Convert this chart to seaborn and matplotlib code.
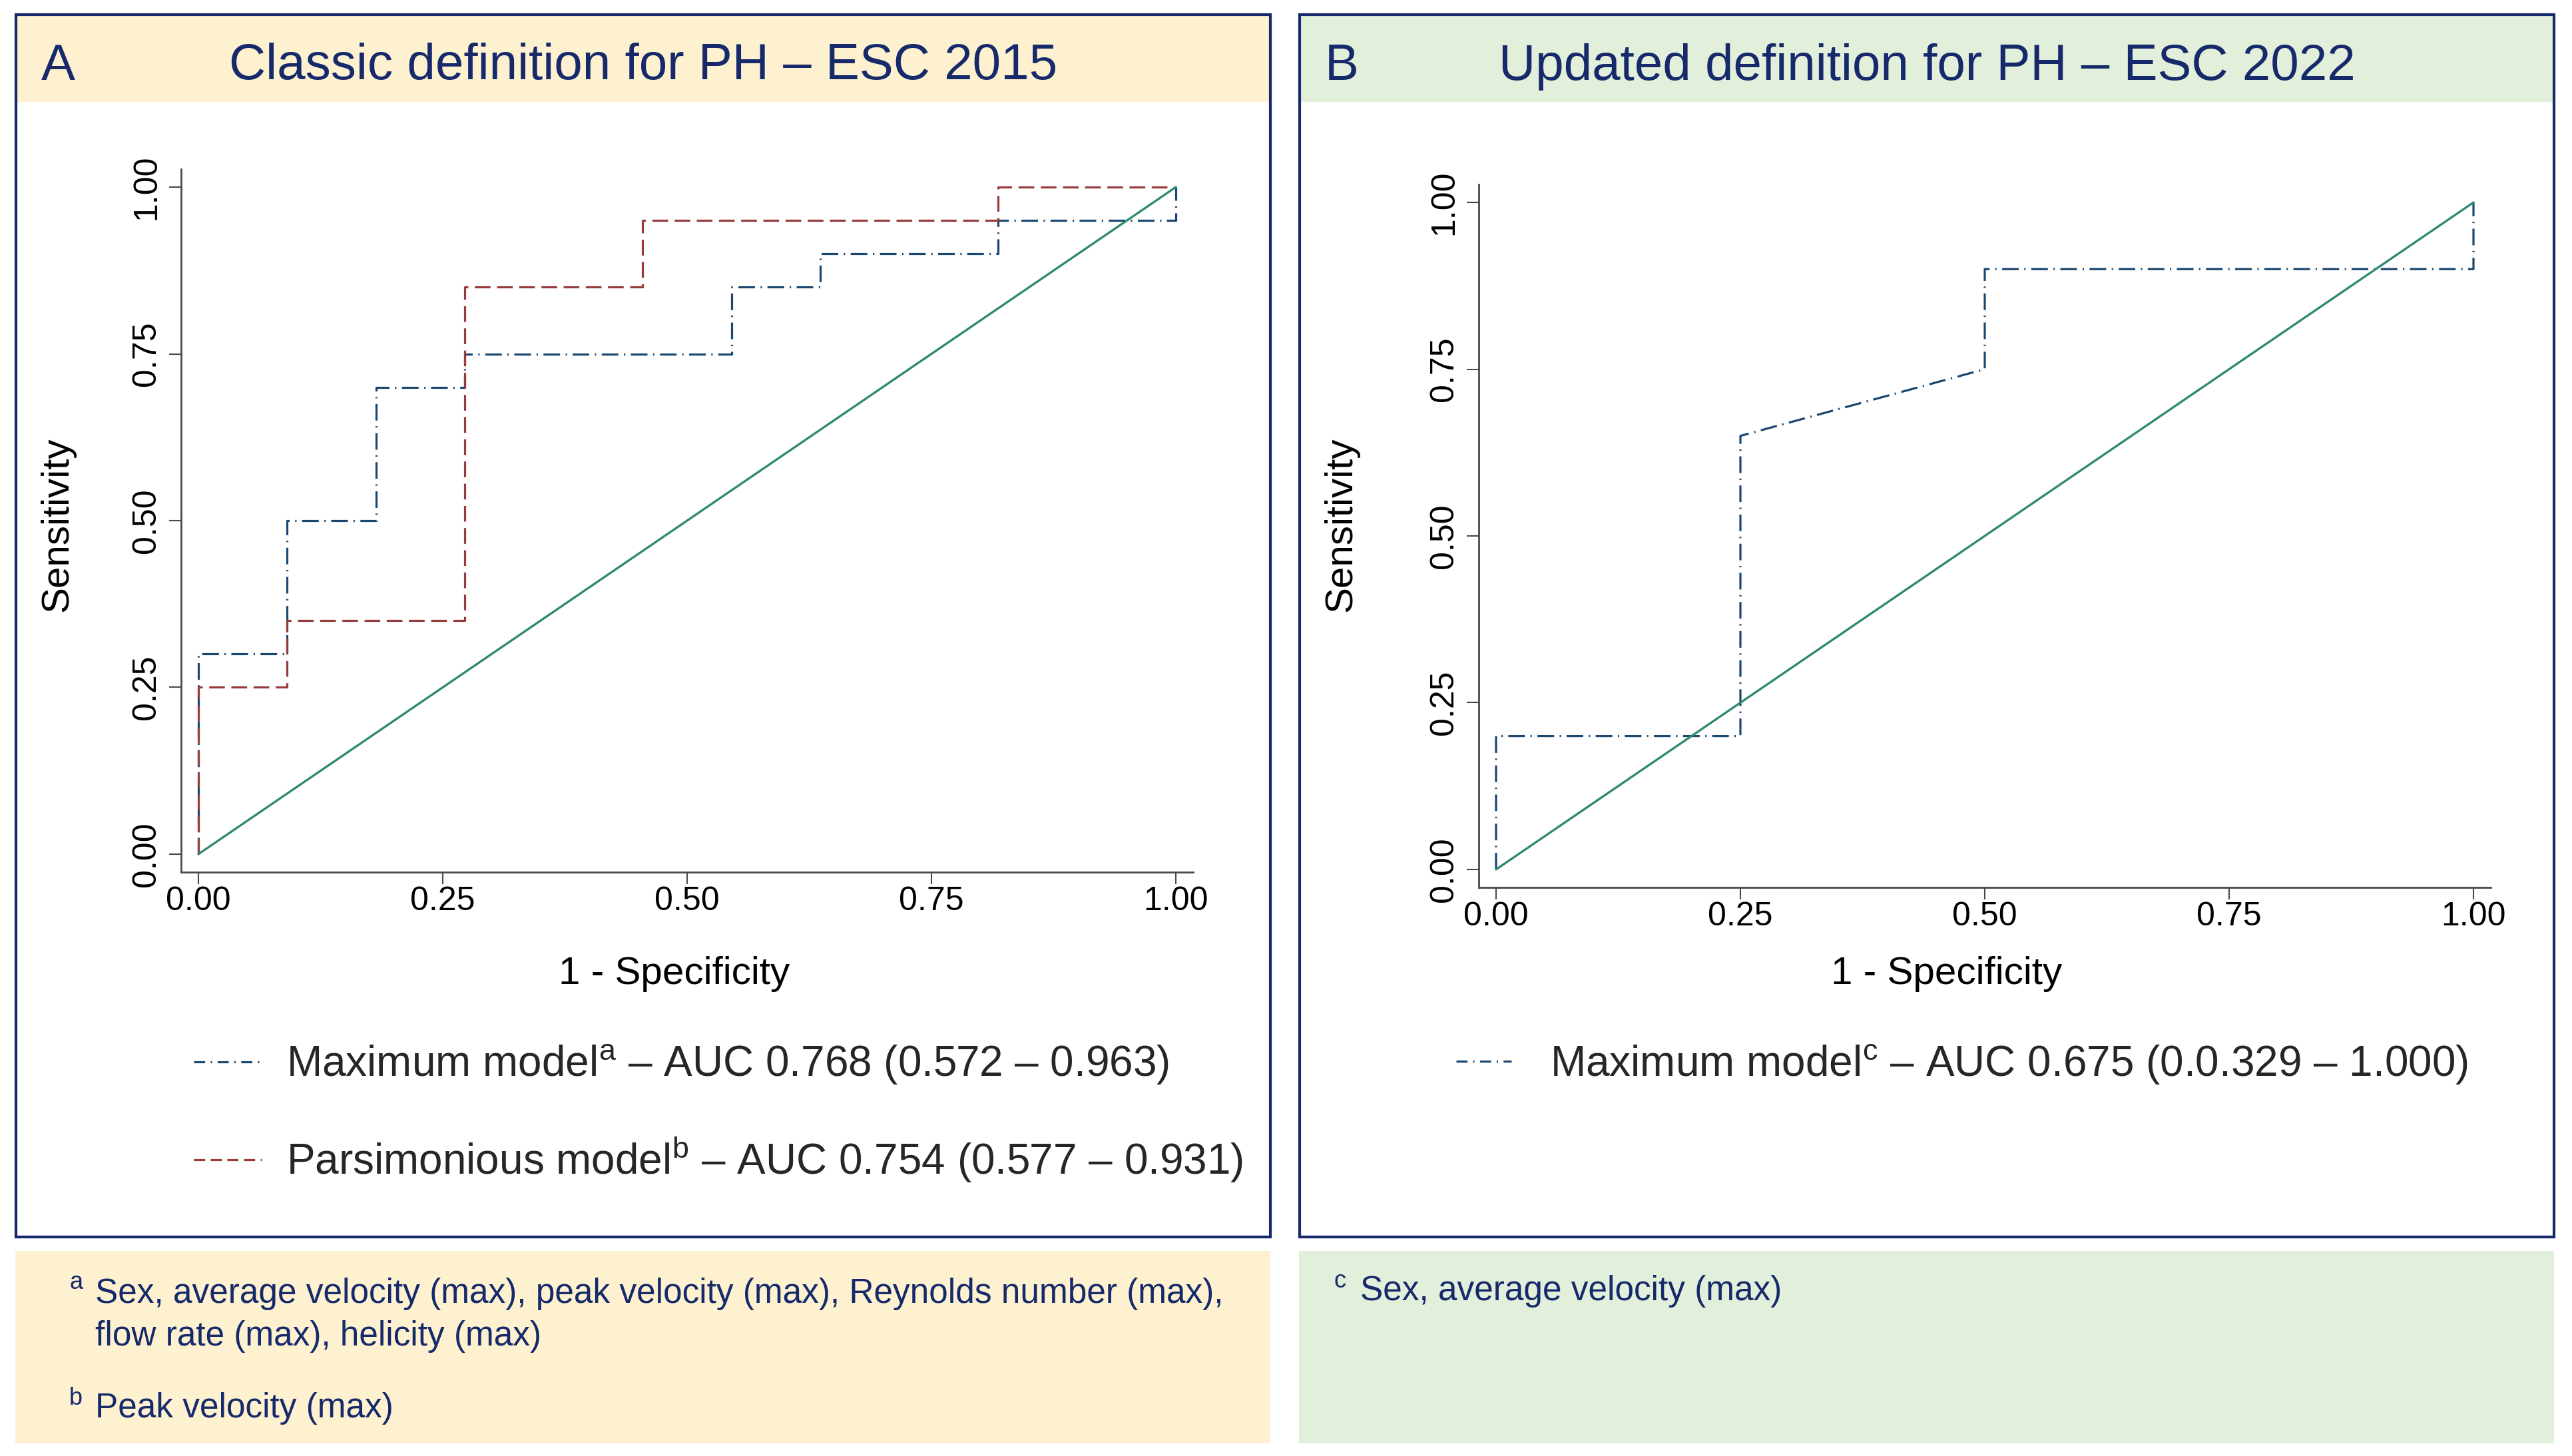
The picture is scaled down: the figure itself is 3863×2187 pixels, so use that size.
import matplotlib
matplotlib.use("Agg")
import matplotlib.pyplot as plt
from matplotlib.patches import Rectangle
from matplotlib.lines import Line2D
import seaborn as sns

# ===== DATA =====
fpr_max_2015 = [0.0, 0.0, 0.0909, 0.0909, 0.1818, 0.1818, 0.2727, 0.2727,
                0.5455, 0.5455, 0.6364, 0.6364, 0.8182, 0.8182, 1.0, 1.0]
tpr_max_2015 = [0.0, 0.30, 0.30, 0.50, 0.50, 0.70, 0.70, 0.75,
                0.75, 0.85, 0.85, 0.90, 0.90, 0.95, 0.95, 1.0]

fpr_pars_2015 = [0.0, 0.0, 0.0909, 0.0909, 0.2727, 0.2727, 0.4545, 0.4545,
                 0.8182, 0.8182, 1.0]
tpr_pars_2015 = [0.0, 0.25, 0.25, 0.35, 0.35, 0.85, 0.85, 0.95,
                 0.95, 1.0, 1.0]

fpr_max_2022 = [0.0, 0.0, 0.25, 0.25, 0.50, 0.50, 1.0, 1.0]
tpr_max_2022 = [0.0, 0.20, 0.20, 0.65, 0.75, 0.90, 0.90, 1.0]

ref_line = [0.0, 1.0]
ticks = [0.0, 0.25, 0.50, 0.75, 1.0]
tick_labels = ["0.00", "0.25", "0.50", "0.75", "1.00"]

titles = ["Classic definition for PH \u2013 ESC 2015",
          "Updated definition for PH \u2013 ESC 2022"]
panel_letters = ["A", "B"]
legend_2015 = ["Maximum model$^{\\mathrm{a}}$ \u2013 AUC 0.768 (0.572 \u2013 0.963)",
               "Parsimonious model$^{\\mathrm{b}}$ \u2013 AUC 0.754 (0.577 \u2013 0.931)"]
legend_2022 = ["Maximum model$^{\\mathrm{c}}$ \u2013 AUC 0.675 (0.0.329 \u2013 1.000)"]
notes_2015 = [("a", "Sex, average velocity (max), peak velocity (max), Reynolds number (max),"),
              ("", "flow rate (max), helicity (max)"),
              ("b", "Peak velocity (max)")]
notes_2022 = [("c", "Sex, average velocity (max)")]

# ===== STYLE =====
sns.set_theme(style="ticks")
plt.rcParams["font.family"] = ["Liberation Sans", "DejaVu Sans"]
plt.rcParams["mathtext.fontset"] = "custom"
plt.rcParams["mathtext.rm"] = "Liberation Sans"
plt.rcParams["mathtext.default"] = "rm"
plt.rcParams["lines.scale_dashes"] = False

BLUE = "#1a476f"
RED = "#963a3c"
GREEN = "#2f8a70"
NAVY = "#15296b"
YELLOW = "#fdf1d0"
LGREEN = "#e2efda"
AXC = "#4a4a4a"
DASHDOT = (0, (18, 6, 1.5, 6))
DASHED = (0, (17, 7))

W, H = 3863, 2187
fig = plt.figure(figsize=(W / 100, H / 100), dpi=100)
fig.patch.set_facecolor("white")


def fx(px):
    return px / W


def fy(py):
    return 1 - py / H


def frect(x0, y0, x1, y1, **kw):
    r = Rectangle((fx(x0), fy(y1)), fx(x1) - fx(x0), fy(y0) - fy(y1),
                  transform=fig.transFigure, **kw)
    fig.add_artist(r)


# panels: box left/right px, header colour, axes left px, axes bottom/top px
panels = [
    dict(x0=24, x1=1908, col=YELLOW, ax_left=272, ax_bot=1310, ax_top=254),
    dict(x0=1952, x1=3836, col=LGREEN, ax_left=2221, ax_bot=1333, ax_top=277),
]

for i, p in enumerate(panels):
    frect(p["x0"], 22, p["x1"], 153, facecolor=p["col"], edgecolor="none", zorder=0)
    frect(p["x0"], 22, p["x1"], 1858, facecolor="none", edgecolor=NAVY,
          linewidth=3, zorder=5)
    frect(p["x0"] - 1, 1879, p["x1"], 2168, facecolor=p["col"], edgecolor="none", zorder=0)
    fig.text(fx(p["x0"] + 38), fy(100), panel_letters[i], color=NAVY,
             fontsize=55, ha="left", va="center")
    fig.text(fx((p["x0"] + p["x1"]) / 2), fy(100), titles[i], color=NAVY,
             fontsize=55, ha="center", va="center")

axes = []
for p in panels:
    ax = fig.add_axes([fx(p["ax_left"]), fy(p["ax_bot"]),
                       fx(1520), (p["ax_bot"] - p["ax_top"]) / H])
    axes.append(ax)

# ===== PANEL A =====
ax = axes[0]
sns.lineplot(x=fpr_max_2015, y=tpr_max_2015, sort=False, estimator=None, ax=ax,
             color=BLUE, linewidth=2.3, linestyle=DASHDOT)
sns.lineplot(x=fpr_pars_2015, y=tpr_pars_2015, sort=False, estimator=None, ax=ax,
             color=RED, linewidth=2.3, linestyle=DASHED)
sns.lineplot(x=ref_line, y=ref_line, sort=False, estimator=None, ax=ax,
             color=GREEN, linewidth=2.4)

# ===== PANEL B =====
ax = axes[1]
sns.lineplot(x=fpr_max_2022, y=tpr_max_2022, sort=False, estimator=None, ax=ax,
             color=BLUE, linewidth=2.3, linestyle=DASHDOT)
sns.lineplot(x=ref_line, y=ref_line, sort=False, estimator=None, ax=ax,
             color=GREEN, linewidth=2.4)

label_x = [1013, 2924]
for i, ax in enumerate(axes):
    ax.set_xlim(-0.0177, 1.0177)
    ax.set_ylim(-0.027, 1.027)
    ax.set_xticks(ticks)
    ax.set_xticklabels(tick_labels)
    ax.set_yticks(ticks)
    ax.set_yticklabels(tick_labels, rotation=90, va="center")
    ax.tick_params(axis="both", length=13, width=1.5, color=AXC,
                   labelsize=36, labelcolor="black")
    ax.tick_params(axis="x", pad=2)
    ax.tick_params(axis="y", pad=8)
    sns.despine(ax=ax)
    for s in ["left", "bottom"]:
        ax.spines[s].set_color(AXC)
        ax.spines[s].set_linewidth(2)
    ax.set_xlabel("")
    ax.set_ylabel("")
    ax.patch.set_alpha(0)
    fig.text(fx(label_x[i]), fy(1463), "1 - Specificity", fontsize=42,
             ha="center", va="center", color="black")
    fig.text(fx(panels[i]["x0"] + 62), fy(788), "Sensitivity", fontsize=42,
             rotation=90, ha="center", va="center", color="black")

# ===== LEGENDS =====
h_max = Line2D([], [], color=BLUE, linewidth=2.3, linestyle=(0, (12, 6, 1.5, 6)))
h_pars = Line2D([], [], color=RED, linewidth=2.3, linestyle=(0, (12, 6)))
axes[0].legend([h_max, h_pars], legend_2015, loc="center left",
               bbox_to_anchor=(fx(291), fy(1673)), bbox_transform=fig.transFigure,
               frameon=False, fontsize=46, handlelength=1.6, handletextpad=0.58,
               labelspacing=1.15, borderpad=0, borderaxespad=0)
axes[1].legend([h_max], legend_2022, loc="center left",
               bbox_to_anchor=(fx(2187), fy(1599)), bbox_transform=fig.transFigure,
               frameon=False, fontsize=46, handlelength=1.3, handletextpad=0.9,
               borderpad=0, borderaxespad=0)

# ===== FOOTNOTES =====
note_y = [1943, 2008, 2116]
for (sup, txt), y in zip(notes_2015, note_y):
    if sup:
        fig.text(fx(104), fy(y - 16), sup, fontsize=26, color=NAVY, ha="left", va="center")
    fig.text(fx(143), fy(y), txt, fontsize=37, color=NAVY, ha="left", va="center")
for (sup, txt) in notes_2022:
    fig.text(fx(2003), fy(1940 - 16), sup, fontsize=26, color=NAVY, ha="left", va="center")
    fig.text(fx(2043), fy(1940), txt, fontsize=37, color=NAVY, ha="left", va="center")

fig.savefig("out.png", dpi=100)
